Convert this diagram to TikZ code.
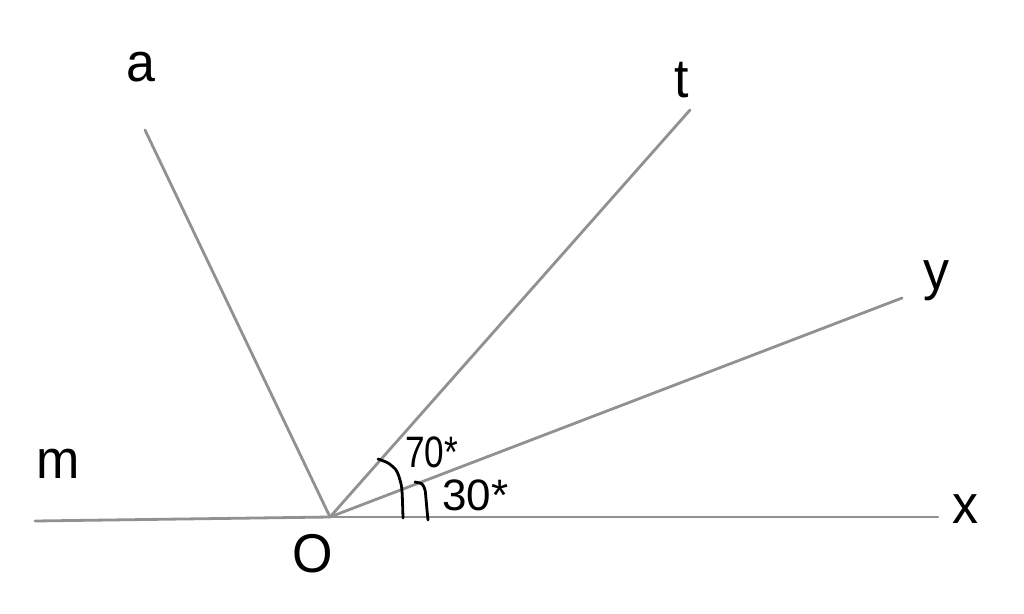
\documentclass[tikz,border=0pt]{standalone}
\usepackage{fontspec}
\setmainfont{Liberation Sans}
\begin{document}
\begin{tikzpicture}[x=1pt,y=-1pt,
  ray/.style={draw=black!43, line width=2.8pt, line cap=round},
  anglemark/.style={draw=black, line width=2.8pt, line cap=round, line join=round},
  lbl/.style={inner sep=0pt, anchor=base, font=\fontsize{52}{60}\selectfont, yscale=1.05},
  deg/.style={inner sep=0pt, anchor=base west, font=\fontsize{44}{50}\selectfont}]
\useasboundingbox (0,0) rectangle (1024,613);
\fill[white] (0,0) rectangle (1024,613);
\coordinate (O) at (330,517);
\coordinate (M) at (35,521);
\coordinate (X) at (938,517);
\coordinate (A) at (145,130);
\coordinate (T) at (690,110);
\coordinate (Y) at (902,298);
\draw[ray] (M) -- (O);
\draw[ray] (O) -- (X);
\draw[ray] (O) -- (A);
\draw[ray] (O) -- (T);
\draw[ray] (O) -- (Y);
% angle marks
\draw[anglemark] plot[smooth, tension=0.5] coordinates {(378,459) (388,463) (396,470) (400,480) (402,491) (403,518)};
\draw[anglemark] plot[smooth, tension=0.5] coordinates {(415,482) (422,484) (425,490) (426,499) (427,510) (428,520)};
% labels
\node[lbl] (la) at (141,81) {a};
\node[lbl] (lt) at (682,97) {t};
\node[lbl] (ly) at (936,289) {y};
\node[lbl] (lm) at (58,478) {m};
\node[lbl] (lx) at (965,523) {x};
\node[lbl] (lo) at (313,572) {O};
\node[deg, xscale=0.8] (l70) at (405,467) {70*};
\node[deg] (l30) at (442,510) {30*};
\end{tikzpicture}
\end{document}
